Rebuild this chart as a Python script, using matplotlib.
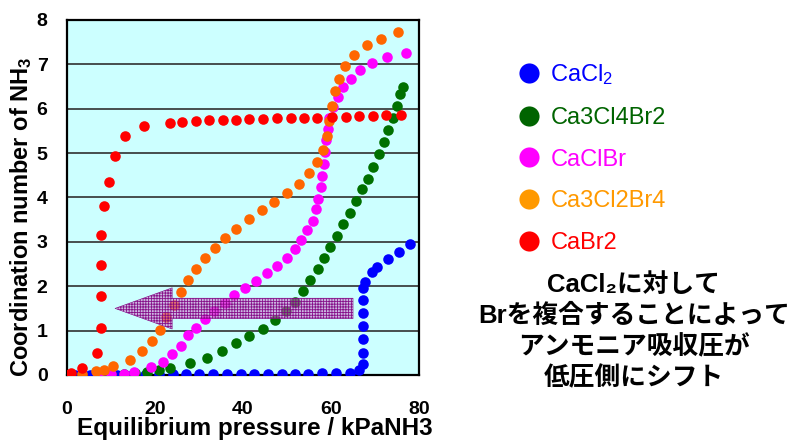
#!/usr/bin/env python3
# -*- coding: utf-8 -*-

import matplotlib
matplotlib.use("Agg")
import matplotlib.pyplot as plt
from matplotlib.lines import Line2D
from matplotlib.patches import FancyArrow

plt.rcParams['font.family'] = ['Liberation Sans', 'DejaVu Sans', 'Noto Sans CJK JP']
plt.rcParams['mathtext.default'] = 'regular'
plt.rcParams['hatch.linewidth'] = 0.6

# series order = legend order
labels = ['CaCl$_2$', 'Ca3Cl4Br2', 'CaClBr', 'Ca3Cl2Br4', 'CaBr2']
colors = ['#0000FF', '#007000', '#FF00FF', '#FF6600', '#FF0000']
legend_colors = ['#0000FF', '#006400', '#FF00FF', '#FF9900', '#FF0000']

cacl2_x = [0, 1.8, 5.2, 8.3, 11.4, 14.7, 17.7, 21.0, 24.0, 27.0, 30.1, 33.1, 36.3,
           39.5, 42.5, 45.6, 48.8, 51.8, 54.8, 58.0, 61.1, 64.2, 66.4, 67.2, 67.2,
           67.2, 67.2, 67.2, 67.2, 67.2, 67.7, 69.2, 70.5, 72.9, 75.5, 78.0]
cacl2_y = [0, 0, 0, 0, 0, 0.01, 0.01, 0.02, 0.02, 0.02, 0.02, 0.02, 0.02,
           0.02, 0.02, 0.03, 0.03, 0.03, 0.03, 0.04, 0.04, 0.05, 0.11, 0.25, 0.5,
           0.8, 1.1, 1.39, 1.68, 1.96, 2.1, 2.33, 2.44, 2.61, 2.78, 2.96]

ca3cl4br2_x = [3.5, 7.0, 10.0, 13.0, 15.5, 18.1, 21.0, 23.5, 28.0, 31.7, 35.2, 38.3,
               41.4, 44.6, 47.3, 49.7, 51.7, 53.6, 55.2, 57.0, 58.3, 59.8, 61.3, 62.7,
               64.2, 65.6, 67.0, 68.3, 69.6, 70.8, 72.0, 72.9, 74.0, 74.9, 75.7, 76.4]
ca3cl4br2_y = [0.0, 0.01, 0.02, 0.03, 0.04, 0.06, 0.11, 0.15, 0.26, 0.39, 0.53, 0.72,
               0.87, 1.04, 1.24, 1.44, 1.65, 1.9, 2.13, 2.39, 2.63, 2.88, 3.14, 3.4,
               3.65, 3.91, 4.18, 4.42, 4.69, 4.97, 5.24, 5.51, 5.79, 6.07, 6.34, 6.49]

caclbr_x = [0, 7.1, 10.0, 12.9, 15.3, 19.0, 21.8, 23.9, 25.8, 27.5, 29.3, 31.3, 33.5,
            35.8, 38.0, 40.5, 43.0, 45.4, 47.7, 49.9, 51.8, 53.2, 54.6, 55.8, 56.6,
            57.1, 57.7, 58.0, 58.3, 58.6, 58.9, 59.2, 59.6, 60.5, 61.5, 62.7, 64.5,
            66.6, 69.4, 72.8, 77.0]
caclbr_y = [0, 0, 0.02, 0.02, 0.06, 0.17, 0.3, 0.47, 0.66, 0.89, 1.05, 1.26, 1.45,
            1.62, 1.81, 1.97, 2.11, 2.3, 2.46, 2.63, 2.84, 3.05, 3.27, 3.48, 3.74,
            3.97, 4.23, 4.49, 4.76, 5.02, 5.29, 5.55, 5.79, 6.03, 6.27, 6.49, 6.68,
            6.88, 7.02, 7.17, 7.25]

ca3cl2br4_x = [0, 3.5, 6.6, 8.5, 10.5, 14.3, 17.1, 19.4, 21.1, 22.4, 24.2, 25.8, 27.5,
               29.3, 31.4, 33.6, 36.0, 38.4, 41.3, 44.2, 47.0, 49.9, 52.7, 55.1, 56.7,
               58.1, 59.0, 59.6, 60.3, 61.0, 61.7, 63.2, 65.2, 68.1, 71.4, 75.3]
ca3cl2br4_y = [0, 0.03, 0.08, 0.12, 0.2, 0.34, 0.53, 0.77, 1.02, 1.3, 1.58, 1.86, 2.13,
               2.38, 2.63, 2.87, 3.09, 3.3, 3.52, 3.71, 3.9, 4.1, 4.31, 4.55, 4.8,
               5.08, 5.38, 5.72, 6.06, 6.4, 6.68, 6.96, 7.2, 7.43, 7.58, 7.74]

cabr2_x = [0, 0.9, 3.5, 6.7, 7.7, 7.7, 7.7, 7.7, 8.5, 9.6, 10.9, 13.2, 17.5, 23.3,
           26.2, 29.3, 32.3, 35.4, 38.4, 41.4, 44.6, 47.7, 50.9, 53.9, 56.9, 60.3,
           63.4, 66.4, 69.6, 72.6, 75.9]
cabr2_y = [0, 0.05, 0.15, 0.5, 1.05, 1.78, 2.47, 3.15, 3.8, 4.36, 4.93, 5.38, 5.6, 5.68,
           5.7, 5.72, 5.74, 5.75, 5.75, 5.77, 5.77, 5.78, 5.78, 5.80, 5.80, 5.82,
           5.82, 5.84, 5.84, 5.85, 5.85]

series_x = [cacl2_x, ca3cl4br2_x, caclbr_x, ca3cl2br4_x, cabr2_x]
series_y = [cacl2_y, ca3cl4br2_y, caclbr_y, ca3cl2br4_y, cabr2_y]

note_lines = ['CaCl\u2082に対して', 'Brを複合することによって', 'アンモニア吸収圧が', '低圧側にシフト']

fig = plt.figure(figsize=(7.95, 4.41), dpi=100)
ax = fig.add_axes([0.0843, 0.1497, 0.4428, 0.805])
ax.set_facecolor('#CCFFFF')

for k in range(len(series_x)):
    ax.plot(series_x[k], series_y[k], 'o', color=colors[k], markersize=7.6,
            markeredgewidth=0, zorder=3)

# shift arrow
arr = FancyArrow(65.0, 1.5, -54.1, 0, width=0.46, head_width=0.93, head_length=13,
                 length_includes_head=True, facecolor=(0.8, 0.5, 0.8, 0.55),
                 edgecolor=(0.5, 0.0, 0.5, 0.9), hatch='++++++', linewidth=0.4, zorder=4)
ax.add_patch(arr)

ax.set_xlim(0, 80)
ax.set_ylim(0, 8)
ax.set_xticks([0, 20, 40, 60, 80])
ax.set_yticks(range(9))
for yy in range(1, 8):
    ax.axhline(yy, color='#303030', linewidth=1.2, zorder=1)
for s in ax.spines.values():
    s.set_linewidth(1.6)
    s.set_color('black')
ax.tick_params(length=0, labelsize=14)
ax.tick_params(axis='y', pad=14)
ax.tick_params(axis='x', pad=19)
for lab in ax.get_xticklabels() + ax.get_yticklabels():
    lab.set_fontweight('bold')

ax.set_xlabel('Equilibrium pressure / kPaNH3', fontsize=17.5, fontweight='bold')
ax.set_ylabel('Coordination number of NH$_3$', fontsize=17, fontweight='bold')
ax.xaxis.set_label_coords(0.533, -0.118)
ax.yaxis.set_label_coords(-0.094, 0.445)

handles = [Line2D([], [], linestyle='none', marker='o', markersize=14.5,
                  markerfacecolor=c, markeredgewidth=0) for c in legend_colors]
fig.legend(handles, labels, loc='upper left', bbox_to_anchor=(0.6375, 0.885),
           frameon=False, fontsize=17, labelcolor=legend_colors,
           handlelength=0.9, handletextpad=0.45, labelspacing=0.83, borderpad=0)

line_y = [285, 316, 347, 378]
for txt, py in zip(note_lines, line_y):
    fig.text(634 / 795, 1 - py / 441, txt, ha='center', va='center',
             fontsize=18.5, fontweight='bold',
             family=['Liberation Sans', 'DejaVu Sans', 'Noto Sans CJK JP'])

plt.savefig('out.png', dpi=100)
